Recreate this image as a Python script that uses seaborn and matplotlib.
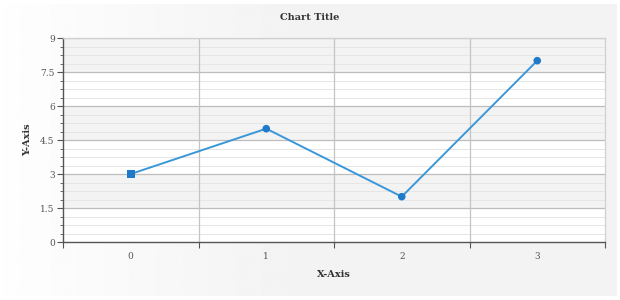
import numpy as np
import pandas as pd
import matplotlib
matplotlib.use("Agg")
import matplotlib.pyplot as plt
import seaborn as sns
from matplotlib.ticker import FixedLocator, MultipleLocator, NullFormatter

categories = ["0", "1", "2", "3"]
values = [3, 5, 2, 8]
marker_shapes = ["square", "circle", "circle", "circle"]
yticks = [0, 1.5, 3, 4.5, 6, 7.5, 9]
ytick_labels = ["0", "1.5", "3", "4.5", "6", "7.5", "9"]

sns.set_theme(style="white")
plt.rcParams["font.family"] = ["DejaVu Serif"]

df = pd.DataFrame({"x": np.arange(len(categories)), "y": values, "shape": marker_shapes})

fig = plt.figure(figsize=(6.2, 3.0), dpi=100)
fig.patch.set_facecolor("white")
# background gradient inside a thin white frame
bg = fig.add_axes([3 / 620, 4 / 300, 614 / 620, 292 / 300], zorder=-10)
grad = np.linspace(0, 1, 256)
col = 0.995 - 0.045 * np.clip(grad * 2.0, 0, 1)
img = np.tile(col, (10, 1))
bg.imshow(img, cmap="gray", vmin=0, vmax=1, aspect="auto", extent=[0, 1, 0, 1])
bg.set_xlim(0, 1); bg.set_ylim(0, 1)
bg.axis("off")

ax = fig.add_axes([63 / 620, 58 / 300, 542 / 620, 204 / 300])
ax.set_facecolor("white")
ax.set_xlim(-0.5, 3.5)
ax.set_ylim(0, 9)

# alternating bands
for lo in [1.5, 4.5, 7.5]:
    ax.axhspan(lo, lo + 1.5, color="#f3f3f3", zorder=0, lw=0)
# minor horizontal grid
for yv in np.arange(0, 9.001, 0.375):
    ax.axhline(yv, color="#e6e6e6", lw=0.7, zorder=0.5)
for yv in yticks[1:]:
    ax.axhline(yv, color="#bdbdbd", lw=0.9, zorder=0.6)
for xv in [0.5, 1.5, 2.5]:
    ax.axvline(xv, color="#c4c4c4", lw=0.9, zorder=0.6)

sns.lineplot(data=df, x="x", y="y", ax=ax, color="#3b97d8", lw=1.4, zorder=3)
sns.scatterplot(data=df, x="x", y="y", style="shape",
                markers={"square": "s", "circle": "o"}, ax=ax,
                color="#1f7bc9", s=30, edgecolor="none", zorder=4, legend=False)

# axes ticks
ax.xaxis.set_major_locator(FixedLocator([-0.5, 0.5, 1.5, 2.5, 3.5]))
ax.xaxis.set_major_formatter(NullFormatter())
ax.set_xticks(df["x"].tolist(), categories, minor=True)
ax.tick_params(axis="x", which="major", direction="out", length=4, width=0.8,
               color="#555555", bottom=True)
ax.tick_params(axis="x", which="minor", length=0, pad=7, labelsize=6.5,
               labelcolor="#555555", bottom=True)

ax.set_yticks(yticks, ytick_labels)
ax.yaxis.set_minor_locator(MultipleLocator(0.375))
ax.tick_params(axis="y", which="major", direction="out", length=4, width=0.8,
               color="#555555", labelsize=6.5, labelcolor="#555555", left=True, pad=2)
ax.tick_params(axis="y", which="minor", direction="out", length=2, width=0.6,
               color="#555555", left=True)

for s in ["left", "bottom"]:
    ax.spines[s].set_color("#555555")
    ax.spines[s].set_linewidth(1.0)
for s in ["top", "right"]:
    ax.spines[s].set_color("#d0d0d0")
    ax.spines[s].set_linewidth(0.9)

ax.set_xlabel("X-Axis", fontsize=7, fontweight="bold", color="#333333", labelpad=7)
ax.set_ylabel("Y-Axis", fontsize=7, fontweight="bold", color="#333333", labelpad=6)
fig.text(0.5, 1 - 18 / 300, "Chart Title", ha="center", va="center",
         fontsize=7, fontweight="bold", color="#333333")

fig.savefig("out.png", dpi=100)
